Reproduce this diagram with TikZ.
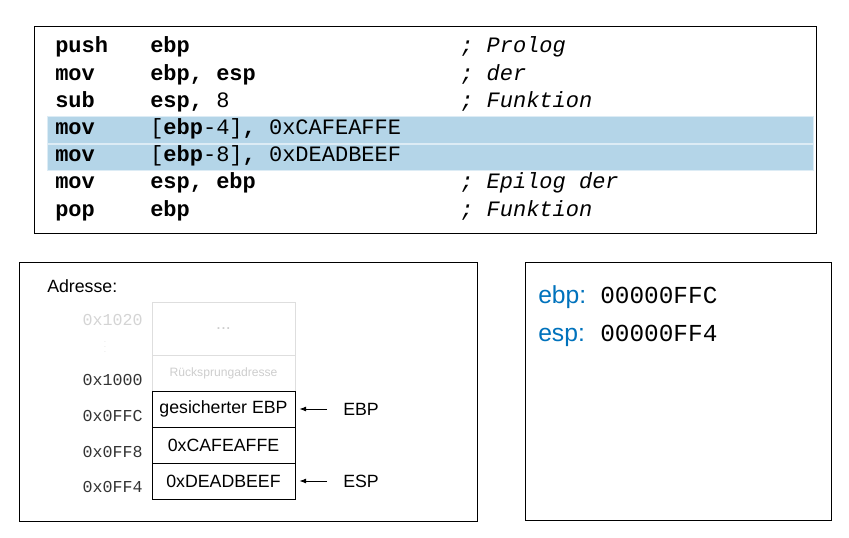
\documentclass[tikz,border=0pt]{standalone}
\usepackage{fontspec}
\setmainfont{Liberation Sans}
\setmonofont{Liberation Mono}
\usetikzlibrary{arrows.meta, positioning}

\definecolor{hlblue}{RGB}{180,213,232}
\definecolor{regblue}{RGB}{0,114,188}
\definecolor{faint}{RGB}{205,205,205}

\begin{document}
\begin{tikzpicture}[
      x=0.75pt,
      y=-0.75pt,
      frame/.style={
          rectangle,
          draw,
          line width=0.75pt,
          inner sep=0pt
        },
      hl/.style={
          rectangle,
          fill=hlblue,
          draw=hlblue!45!white,
          line width=0.4pt,
          minimum width=574.5pt,
          minimum height=20.25pt,
          inner sep=0pt
        },
      code/.style={
          anchor=base west,
          inner sep=0pt,
          font=\ttfamily\fontsize{16.5}{18}\selectfont
        },
      cmt/.style={
          code,
          font=\ttfamily\itshape\fontsize{16.5}{18}\selectfont
        },
      addr/.style={
          anchor=base east,
          inner sep=0pt,
          text=black!80,
          font=\ttfamily\fontsize{12.5}{14}\selectfont
        },
      cell/.style={
          rectangle,
          draw,
          line width=0.75pt,
          minimum width=107.25pt,
          minimum height=27pt,
          inner sep=0pt,
          outer sep=0pt,
          font=\fontsize{13.3}{15}\selectfont
        },
      oldcell/.style={
          cell,
          draw=black!13,
          text=faint
        },
      lbl/.style={
          anchor=west,
          inner sep=0pt,
          font=\fontsize{13.3}{15}\selectfont
        },
      reg/.style={
          anchor=base west,
          inner sep=0pt,
          text=regblue,
          font=\fontsize{18.5}{20}\selectfont
        },
      regval/.style={
          anchor=base west,
          inner sep=0pt,
          font=\ttfamily\fontsize{18.3}{20}\selectfont
        },
      arrow/.style={
          -{Latex[length=5pt,width=3.8pt]},
          line width=0.6pt,
          shorten <=12pt,
          shorten >=3.4pt
        }
    ]
    \useasboundingbox (0,0) rectangle (849,538);

    % Frames
    \node[frame, minimum width=586.5pt, minimum height=155.25pt] (codebox) at (425,130.5) {};
    \node[frame, minimum width=343.5pt, minimum height=193.5pt] (stackbox) at (248,392) {};
    \node[frame, minimum width=229.5pt, minimum height=192.75pt] (regbox) at (678,391.5) {};

    % Highlighted lines
    \node[hl] (hlcafe) at (430,129.5) {};
    \node[hl, minimum height=19.5pt] (hldead) at (430,157) {};

    % Code
    \node[code] (mnem1) at (55,53) {\bfseries push};
    \node[code] (opnd1) at (150,53) {\bfseries ebp};
    \node[cmt] (cmt1) at (460,53) {; Prolog};
    \node[code] (mnem2) at (55,80.2) {\bfseries mov};
    \node[code] (opnd2) at (150,80.2) {\bfseries ebp, esp};
    \node[cmt] (cmt2) at (460,80.2) {; der};
    \node[code] (mnem3) at (55,107.4) {\bfseries sub};
    \node[code] (opnd3) at (150,107.4) {{\bfseries esp,} 8};
    \node[cmt] (cmt3) at (460,107.4) {; Funktion};
    \node[code] (mnem4) at (55,134.6) {\bfseries mov};
    \node[code] (opnd4) at (150,134.6) {[{\bfseries ebp}-4]{\bfseries ,} 0xCAFEAFFE};
    \node[code] (mnem5) at (55,161.8) {\bfseries mov};
    \node[code] (opnd5) at (150,161.8) {[{\bfseries ebp}-8]{\bfseries ,} 0xDEADBEEF};
    \node[code] (mnem6) at (55,189) {\bfseries mov};
    \node[code] (opnd6) at (150,189) {\bfseries esp, ebp};
    \node[cmt] (cmt6) at (460,189) {; Epilog der};
    \node[code] (mnem7) at (55,216.2) {\bfseries pop};
    \node[code] (opnd7) at (150,216.2) {\bfseries ebp};
    \node[cmt] (cmt7) at (460,216.2) {; Funktion};

    % Stack
    \node[anchor=base west, inner sep=0pt, font=\fontsize{13.3}{15}\selectfont] (adresse) at (47,292) {Adresse:};
    \node[oldcell, minimum height=39.75pt] (cellup) at (223.5,328.5) {...};
    \node[oldcell, below=0pt of cellup, font=\fontsize{9.1}{10}\selectfont] (cellret) {Rücksprungadresse};
    \node[cell, below=0pt of cellret] (cellebp) {gesicherter EBP};
    \node[cell, below=0pt of cellebp] (cellcafe) {0xCAFEAFFE};
    \node[cell, below=0pt of cellcafe] (celldead) {0xDEADBEEF};

    \node[addr, text=black!17] (addrup) at (143,325) {0x1020};
    \node[inner sep=0pt, text=black!17, font=\tiny] (addrdots) at (105,343) {\vdots};
    \node[addr] (addrret) at (143,385) {0x1000};
    \node[addr] (addrebp) at (143,421) {0x0FFC};
    \node[addr] (addrcafe) at (143,457) {0x0FF8};
    \node[addr] (addrdead) at (143,492) {0x0FF4};

    \node[lbl] (ebplbl) at (343,409) {EBP};
    \node[lbl] (esplbl) at (343,481) {ESP};

    % Registers
    \node[reg] (ebpreg) at (538,303) {ebp:};
    \node[regval] (ebpval) at (600,303) {00000FFC};
    \node[reg] (espreg) at (538,341) {esp:};
    \node[regval] (espval) at (600,341) {00000FF4};

    % Arrows
    \draw[arrow] (ebplbl.west) -- (cellebp.east);
    \draw[arrow] (esplbl.west) -- (celldead.east);

  \end{tikzpicture}
\end{document}
